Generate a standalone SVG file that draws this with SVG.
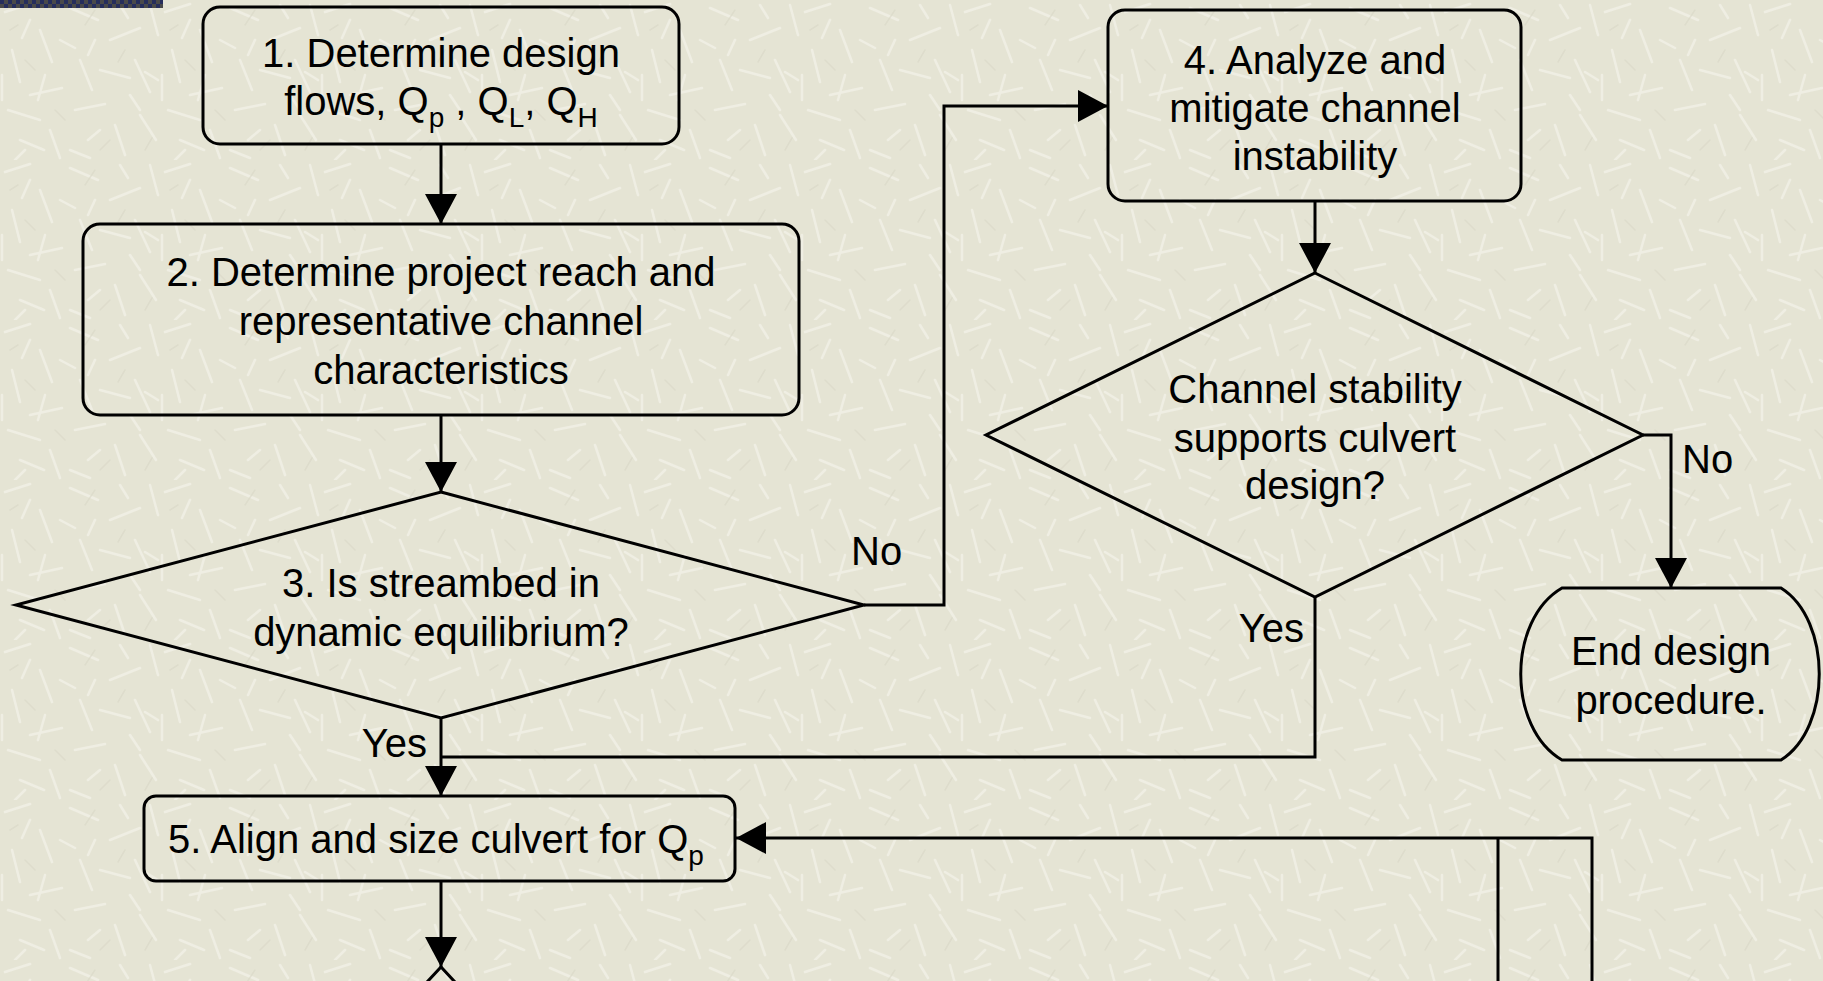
<svg xmlns="http://www.w3.org/2000/svg" width="1823" height="981" viewBox="0 0 1823 981">
<defs>
<style>
.box{fill:none;stroke:#000;stroke-width:3}
.ln{fill:none;stroke:#000;stroke-width:3}
.t{font-family:"Liberation Sans",Arial,sans-serif;font-size:40px;fill:#000}
.m{text-anchor:middle}
.e{text-anchor:end}
.sub{font-size:28px}
</style>
<pattern id="tex" width="160" height="160" patternUnits="userSpaceOnUse">
<rect width="160" height="160" fill="#E5E4D4"/>
<g stroke="#F1F0E6" stroke-width="2.5" stroke-linecap="round" opacity="0.85">
<path d="M5 12 L30 4 M40 30 L52 62 M70 8 L98 20 M110 40 L140 28 M150 5 L158 35 M12 50 L20 82 M30 95 L62 88 M80 60 L92 90 M100 70 L130 78 M135 60 L150 92 M8 110 L40 120 M50 130 L60 158 M75 110 L105 104 M115 125 L125 155 M140 115 L156 140 M20 140 L44 150 M88 140 L100 130 M60 40 L75 48 M120 5 L128 18 M2 75 L2 100 M45 75 L38 100 M95 40 L88 55 M145 72 L158 80 M30 20 L22 38 M70 150 L90 158 M130 95 L140 110 M15 160 L25 150"/>
</g>
<g stroke="#D8D7C6" stroke-width="1.5" stroke-linecap="round" opacity="0.6">
<path d="M25 60 L35 70 M85 25 L95 10 M125 50 L118 62 M55 110 L65 120 M145 150 L152 138 M10 30 L18 25 M100 150 L110 140"/>
</g>
</pattern>
<pattern id="chk" width="8" height="8" patternUnits="userSpaceOnUse">
<rect width="8" height="8" fill="#4A4A4A"/>
<rect x="0" y="0" width="4" height="4" fill="#262E5C"/>
<rect x="4" y="4" width="4" height="4" fill="#262E5C"/>
</pattern>
<marker id="ah" viewBox="0 0 30 32" refX="30" refY="16" markerWidth="30" markerHeight="32" markerUnits="userSpaceOnUse" orient="auto">
<path d="M0 0 L30 16 L0 32 Z" fill="#000"/>
</marker>
</defs>
<rect width="1823" height="981" fill="url(#tex)"/>
<rect x="0" y="0" width="163" height="8" fill="url(#chk)"/>

<g id="connectors">
<path class="ln" d="M441 144 V224" marker-end="url(#ah)"/>
<path class="ln" d="M441 415 V492" marker-end="url(#ah)"/>
<path class="ln" d="M864 605 H944 V106 H1108" marker-end="url(#ah)"/>
<path class="ln" d="M1315 201 V273" marker-end="url(#ah)"/>
<path class="ln" d="M1643 435 H1671 V588" marker-end="url(#ah)"/>
<path class="ln" d="M1315 597 V757 H441"/>
<path class="ln" d="M441 718 V796" marker-end="url(#ah)"/>
<path class="ln" d="M441 881 V967" marker-end="url(#ah)"/>
<path class="ln" d="M1498 990 V838 M1592 990 V838 H736" marker-end="url(#ah)"/>
<text class="t" x="851" y="565">No</text>
<text class="t" x="1682" y="473">No</text>
<text class="t e" x="1304" y="642">Yes</text>
<text class="t e" x="427" y="757">Yes</text>
</g>

<g id="node1">
<rect class="box" x="203" y="7" width="476" height="137" rx="17"/>
<text class="t m" x="441" y="67">1. Determine design</text>
<text class="t m" x="441" y="115">flows, Q<tspan class="sub" dy="12">p</tspan><tspan dy="-12"> , Q</tspan><tspan class="sub" dy="12">L</tspan><tspan dy="-12">, Q</tspan><tspan class="sub" dy="12">H</tspan></text>
</g>

<g id="node2">
<rect class="box" x="83" y="224" width="716" height="191" rx="17"/>
<text class="t m" x="441" y="286">2. Determine project reach and</text>
<text class="t m" x="441" y="335">representative channel</text>
<text class="t m" x="441" y="384">characteristics</text>
</g>

<g id="node3">
<path class="box" d="M441 492 L864 605 L441 718 L16 605 Z"/>
<text class="t m" x="441" y="597">3. Is streambed in</text>
<text class="t m" x="441" y="646">dynamic equilibrium?</text>
</g>

<g id="node4">
<rect class="box" x="1108" y="10" width="413" height="191" rx="17"/>
<text class="t m" x="1315" y="74">4. Analyze and</text>
<text class="t m" x="1315" y="122">mitigate channel</text>
<text class="t m" x="1315" y="170">instability</text>
</g>

<g id="node6">
<path class="box" d="M1315 273 L1643 435 L1315 597 L986 435 Z"/>
<text class="t m" x="1315" y="403">Channel stability</text>
<text class="t m" x="1315" y="452">supports culvert</text>
<text class="t m" x="1315" y="499">design?</text>
</g>

<g id="end">
<path class="box" d="M1562 588 H1781 C1832 620 1832 728 1781 760 H1562 C1507 728 1507 620 1562 588 Z"/>
<text class="t m" x="1671" y="665">End design</text>
<text class="t m" x="1671" y="714">procedure.</text>
</g>

<g id="node5">
<rect class="box" x="144" y="796" width="591" height="85" rx="12"/>
<text class="t" x="168" y="853">5. Align and size culvert for Q<tspan class="sub" dy="12">p</tspan></text>
</g>

<g id="node7">
<path class="box" d="M401 1010 L441 967 L481 1010"/>
</g>
</svg>
